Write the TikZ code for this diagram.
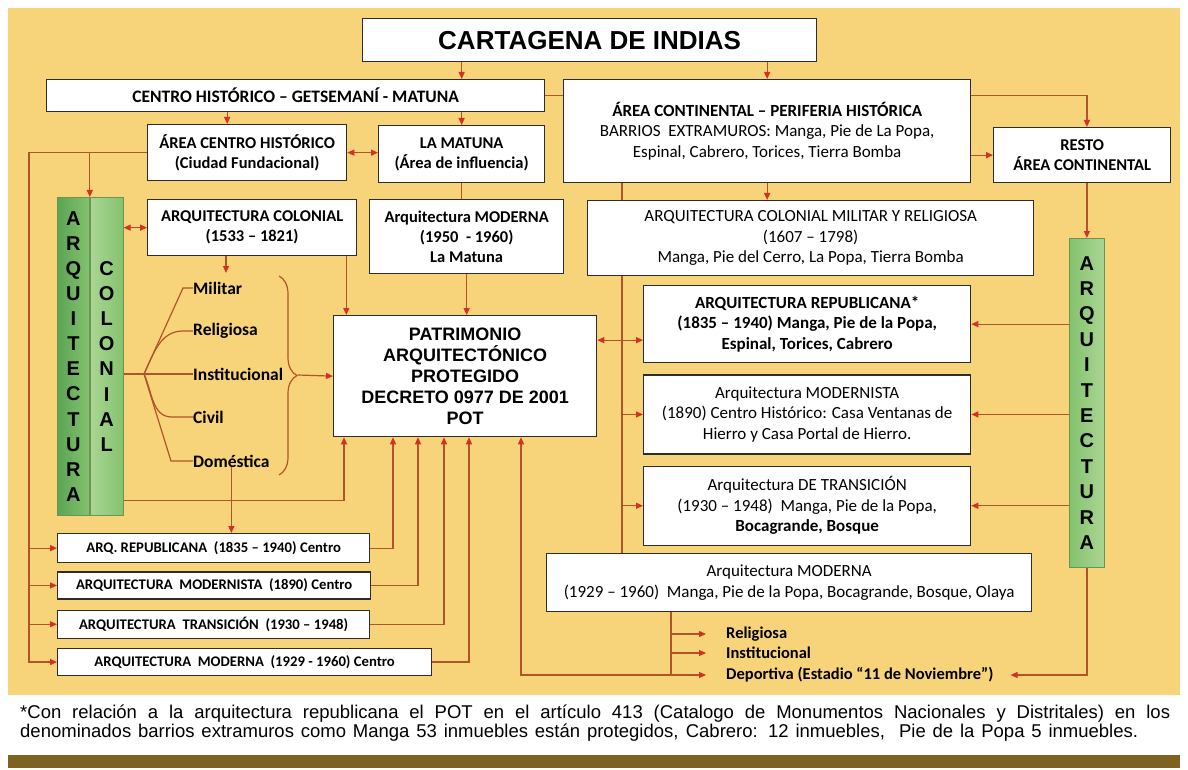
\documentclass[tikz,border=0pt]{standalone}
\usepackage{fontspec}
\setmainfont{Carlito}
\newfontfamily\arialfont{Liberation Sans}
\usepackage{xcolor}
\definecolor{fondo}{RGB}{247,211,121}
\definecolor{rojizo}{RGB}{176,84,42}
\definecolor{punta}{RGB}{214,48,36}
\definecolor{borde}{RGB}{45,45,45}
\definecolor{verdeosc}{RGB}{92,164,86}
\definecolor{verdemed}{RGB}{132,194,110}
\definecolor{verdecla}{RGB}{170,214,148}
\definecolor{verdeborde}{RGB}{104,150,84}
\definecolor{cafe}{RGB}{126,98,34}
\usetikzlibrary{arrows.meta,positioning,decorations.pathreplacing}

\begin{document}
\begin{tikzpicture}[x=1pt,y=-1pt,
    caja/.style={draw=borde,fill=white,line width=1.3pt,inner sep=0pt,align=center,anchor=north west,font=\fontsize{17}{20.5}\selectfont},
    caja negra/.style={caja,font=\bfseries\fontsize{16.5}{20}\selectfont},
    caja chica/.style={caja,font=\bfseries\fontsize{14.7}{17}\selectfont},
    barra/.style={draw=verdeborde,line width=0.8pt,inner sep=0pt,anchor=north west,align=center,font=\arialfont\bfseries\fontsize{20}{25.1}\selectfont},
    tipo/.style={inner sep=0pt,anchor=west,font=\bfseries\fontsize{17.5}{20}\selectfont},
    linea/.style={draw=rojizo,line width=1.2pt},
    flecha/.style={linea,-{Triangle[length=7pt,width=6pt,color=punta]}},
    doble/.style={linea,{Triangle[length=7pt,width=6pt,color=punta]}-{Triangle[length=7pt,width=6pt,color=punta]}}]

    \useasboundingbox (0,0) rectangle (1188,770);
    \fill[white] (0,0) rectangle (1188,770);
    \fill[fondo] (8,8) rectangle (1180,695);
    \fill[cafe] (8,755) rectangle (1180,768);

    % fila superior
    \node[caja,minimum width=454pt,minimum height=43pt,font=\arialfont\bfseries\fontsize{26}{30}\selectfont] (title) at (362,18) {CARTAGENA DE INDIAS};
    \node[caja,minimum width=498pt,minimum height=32pt,font=\bfseries\fontsize{17.5}{20}\selectfont] (centro) at (46,79) {CENTRO HISTÓRICO – GETSEMANÍ - MATUNA};
    \node[caja,minimum width=407pt,minimum height=103pt] (acont) at (563,79) {\textbf{ÁREA CONTINENTAL – PERIFERIA HISTÓRICA}\\BARRIOS~ EXTRAMUROS: Manga, Pie de La Popa,\\Espinal, Cabrero, Torices, Tierra Bomba};
    \node[caja negra,minimum width=177pt,minimum height=55pt] (resto) at (993,127) {RESTO\\ÁREA CONTINENTAL};
    \node[caja negra,minimum width=199pt,minimum height=56pt] (ach) at (147,124) {ÁREA CENTRO HISTÓRICO\\(Ciudad Fundacional)};
    \node[caja negra,minimum width=166pt,minimum height=57pt] (matuna) at (378,125) {LA MATUNA\\(Área de influencia)};
    \node[caja negra,minimum width=209pt,minimum height=56pt] (acol) at (147,199) {ARQUITECTURA COLONIAL\\(1533 – 1821)};
    \node[caja negra,minimum width=194pt,minimum height=74pt] (amod50) at (369,199) {Arquitectura MODERNA\\(1950~ - 1960)\\La Matuna};
    \node[caja,minimum width=446pt,minimum height=75pt] (acolmil) at (587,200) {ARQUITECTURA COLONIAL MILITAR Y RELIGIOSA\\(1607 – 1798)\\Manga, Pie del Cerro, La Popa, Tierra Bomba};

    % centro
    \node[caja,minimum width=263pt,minimum height=121pt,font=\arialfont\bfseries\fontsize{18}{21}\selectfont] (patri) at (333,315) {PATRIMONIO\\ARQUITECTÓNICO\\PROTEGIDO\\DECRETO 0977 DE 2001\\POT};

    % columna derecha
    \node[caja,minimum width=327pt,minimum height=77pt,font=\bfseries\fontsize{17}{20.5}\selectfont] (rrep) at (643,285) {ARQUITECTURA REPUBLICANA*\\(1835 – 1940) Manga, Pie de la Popa,\\Espinal, Torices, Cabrero};
    \node[caja,minimum width=327pt,minimum height=79pt,below=11pt of rrep.south west,anchor=north west] (rmod) {Arquitectura MODERNISTA\\(1890) Centro Histórico: Casa Ventanas de\\Hierro y Casa Portal de Hierro.};
    \node[caja,minimum width=327pt,minimum height=79pt,below=11pt of rmod.south west,anchor=north west] (rtra) {Arquitectura DE TRANSICIÓN\\(1930 – 1948)~ Manga, Pie de la Popa,\\\textbf{Bocagrande, Bosque}};
    \node[caja,minimum width=485pt,minimum height=58pt] (amod29) at (546,553) {Arquitectura MODERNA\\(1929 – 1960)~ Manga, Pie de la Popa, Bocagrande, Bosque, Olaya};

    % columna izquierda abajo
    \node[caja chica,minimum width=312pt,minimum height=29pt] (lrep) at (57,533) {ARQ. REPUBLICANA~ (1835 – 1940) Centro};
    \node[caja chica,minimum width=313pt,minimum height=27pt,below=8pt of lrep.south west,anchor=north west] (lmod) {ARQUITECTURA~ MODERNISTA~ (1890) Centro};
    \node[caja chica,minimum width=312pt,minimum height=28pt,below=10pt of lmod.south west,anchor=north west] (ltra) {ARQUITECTURA~ TRANSICIÓN~ (1930 – 1948)};
    \node[caja chica,minimum width=374pt,minimum height=27pt,below=9pt of ltra.south west,anchor=north west] (lmodc) {ARQUITECTURA~ MODERNA~ (1929 - 1960) Centro};

    % barras verdes
    \node[barra,minimum width=32pt,minimum height=318pt,left color=verdeosc,right color=verdemed] (glA) at (57,197) {A\\R\\Q\\U\\I\\T\\E\\C\\T\\U\\R\\A};
    \node[barra,minimum width=33pt,minimum height=318pt,left color=verdecla,right color=verdemed,right=0pt of glA.north east,anchor=north west] (glC) {C\\O\\L\\O\\N\\I\\A\\L};
    \node[barra,minimum width=35pt,minimum height=329pt,left color=verdemed,right color=verdecla,font=\arialfont\bfseries\fontsize{20}{25.4}\selectfont] (gr) at (1069,238) {A\\R\\Q\\U\\I\\T\\E\\C\\T\\U\\R\\A};

    % tipos coloniales
    \node[tipo] (mil) at (193,288) {Militar};
    \node[tipo] (rel) at (193,331) {Religiosa};
    \node[tipo] (inst) at (193,374) {Institucional};
    \node[tipo] (civ) at (193,417) {Civil};
    \node[tipo] (dom) at (193,461) {Doméstica};

    % tipos modernos
    \node[tipo,font=\bfseries\fontsize{16.5}{19}\selectfont] (rel2) at (726,634) {Religiosa};
    \node[tipo,font=\bfseries\fontsize{16.5}{19}\selectfont] (inst2) at (726,653) {Institucional};
    \node[tipo,font=\bfseries\fontsize{16.5}{19}\selectfont] (dep) at (726,675) {Deportiva (Estadio “11 de Noviembre”)};

    % nota
    \node[anchor=west,inner sep=0pt,font=\arialfont\fontsize{18.5}{18}\selectfont] (nota1) at (20,714) {\makebox[1150pt][s]{*Con relación a la arquitectura republicana el POT en el artículo 413 (Catalogo de Monumentos Nacionales y Distritales) en los}};
    \node[anchor=west,inner sep=0pt,font=\arialfont\fontsize{18.5}{18}\selectfont] (nota2) at (20,733) {\makebox[1118pt][s]{denominados barrios extramuros como Manga 53 inmuebles están protegidos, Cabrero: 12 inmuebles,~ Pie de la Popa 5 inmuebles.}};

    \coordinate (ltr) at (29,0);
    \coordinate (rtr) at (622,0);
    \coordinate (btr) at (671,0);
    \coordinate (fork) at (144,374);
    \coordinate (colend) at (226,273);
    \coordinate (brT) at (279,276);
    \coordinate (brB) at (279,475);
    \coordinate (brtip) at (298,375);

    % conexiones superiores
    \draw[flecha] (title.south -| matuna) -- (centro.north -| matuna);
    \draw[flecha] (title.south -| acont) -- (acont.north);
    \draw[linea] (centro.east) -- (acont.west |- centro.east);
    \draw[flecha] ([xshift=-20pt]ach.north |- centro.south) -- ([xshift=-20pt]ach.north);
    \draw[flecha] (centro.south -| matuna) -- (matuna.north);
    \draw[doble] (ach.east) -- (ach.east -| matuna.west);
    \draw[linea] (matuna.south) -- (matuna.south |- amod50.north);
    \draw[flecha] (amod50.south) -- (amod50.south |- patri.north);
    \draw[flecha] (acont.south) -- (acont.south |- acolmil.north);
    \draw[flecha] (acont.east |- resto.west) -- (resto.west);
    \draw[flecha] (acont.east |- centro.east) -| (gr |- resto.north);
    \draw[flecha] (resto.south -| gr) -- (gr.north);

    % lado izquierdo
    \draw[flecha] (ach.west) -| (ltr |- lmodc.west) -- (lmodc.west);
    \draw[flecha] (ltr |- lrep.west) -- (lrep.west);
    \draw[flecha] (ltr |- lmod.west) -- (lmod.west);
    \draw[flecha] (ltr |- ltra.west) -- (ltra.west);
    \draw[flecha] (glA.north east |- ach.west) -- (glA.north east);
    \draw[doble] (glC.east |- acol.west) -- (acol.west);
    \draw[flecha] (acol.south -| colend) -- (colend);
    \draw[flecha] ([xshift=-11pt]acol.south east) -- ([xshift=-11pt]acol.south east |- patri.north);

    % arbol colonial
    \draw[linea] (glC.east |- inst.west) -- (inst.west);
    \draw[linea] (fork) -- ([xshift=-10pt]mil.west) -- (mil.west);
    \draw[linea] (fork) to[out=65,in=180] ([xshift=-10pt]rel.west) -- (rel.west);
    \draw[linea] (fork) to[out=-65,in=180] ([xshift=-21pt]civ.west) -- (civ.west);
    \draw[linea] (fork) -- ([xshift=-22pt]dom.west) -- (dom.west);
    \draw[linea,decorate,decoration={brace,amplitude=18pt}] (brT) -- (brB);
    \draw[flecha] (brtip) -- (patri.west);
    \draw[flecha] (dom.south) -- (dom.south |- lrep.north);
    \draw[flecha] ([yshift=15pt]glC.south east) -| ([xshift=11pt]patri.south west);

    % cajas de abajo a patrimonio
    \draw[flecha] (lrep.east) -| ([xshift=60pt]patri.south west);
    \draw[flecha] (lmod.east) -| ([xshift=85pt]patri.south west);
    \draw[flecha] (ltra.east) -| ([xshift=111pt]patri.south west);
    \draw[flecha] (lmodc.east) -| ([xshift=136pt]patri.south west);

    % lado derecho
    \draw[linea] (rtr |- acont.south) -- (rtr |- acolmil.north);
    \draw[linea] (rtr |- acolmil.south) -- (rtr |- amod29.north);
    \draw[doble] ([yshift=-16pt]rrep.west -| patri.east) -- ([yshift=-16pt]rrep.west);
    \draw[flecha] (rtr |- rmod.west) -- (rmod.west);
    \draw[flecha] (rtr |- rtra.west) -- (rtra.west);
    \draw[flecha] (gr.west |- rrep.east) -- (rrep.east);
    \draw[flecha] (gr.west |- rmod.east) -- (rmod.east);
    \draw[flecha] (gr.west |- rtra.east) -- (rtra.east);

    % moderna abajo
    \draw[linea] (btr |- amod29.south) -- (btr |- dep.west);
    \draw[flecha] (btr |- rel2.west) -- ([xshift=-20pt]rel2.west);
    \draw[flecha] (btr |- inst2.west) -- ([xshift=-20pt]inst2.west);
    \draw[flecha] (btr |- dep.west) -- ([xshift=-20pt]dep.west);
    \draw[flecha] (btr |- dep.west) -| ([xshift=188pt]patri.south west);
    \draw[flecha] (gr.south) |- ([xshift=17pt]dep.east);
\end{tikzpicture}
\end{document}
